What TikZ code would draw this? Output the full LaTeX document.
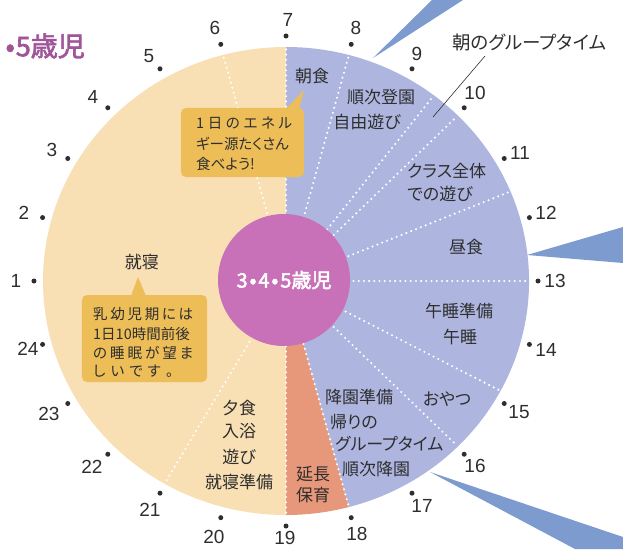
\documentclass[tikz,border=0pt]{standalone}
\usepackage{fontspec}
\newfontfamily\jp[RawFeature=+palt]{Noto Sans CJK JP}
\newfontfamily\jpb[RawFeature=+palt,FakeBold=2.5]{Noto Sans CJK JP}
\newfontfamily\numf{Liberation Sans}
\definecolor{peach}{HTML}{F8DFB4}
\definecolor{lav}{HTML}{AEB6E0}
\definecolor{salmon}{HTML}{E8987A}
\definecolor{pinkc}{HTML}{C870B8}
\definecolor{wedgec}{HTML}{7D9BCE}
\definecolor{calloutc}{HTML}{EDBE58}
\definecolor{titlec}{HTML}{A0559A}
\definecolor{ink}{HTML}{2E2E2E}
\newcommand\spr[2]{\makebox[#1][s]{#2}}
\begin{document}
\begin{tikzpicture}[x=1pt,y=1pt,
  divider/.style={white,line width=2.3pt,dash pattern=on 0pt off 5.2pt,line cap=round},
  lbl/.style={text=ink,font=\jp\fontsize{17}{20}\selectfont,inner sep=0pt},
  lblw/.style={lbl,anchor=west},
  small/.style={text=ink,font=\jp\fontsize{14.5}{17}\selectfont,inner sep=0pt,anchor=west},
  hour/.style={text=ink,font=\numf\fontsize{19}{22}\selectfont,inner sep=0pt},
  hdot/.style={circle,fill=ink,inner sep=0pt,minimum size=5pt},
  wedge/.style={fill=wedgec},
  callout/.style={fill=calloutc}]
\useasboundingbox (-286,-268) rectangle (337,281);
% blue wedges
\fill[wedge] (87,223) -- (146,281) -- (177,281) -- cycle;
\fill[wedge] (241,26) -- (337,54) -- (337,18) -- cycle;
\fill[wedge] (144,-191) -- (337,-256) -- (337,-268) -- (289,-268) -- cycle;
% clock face
\begin{scope}[xscale=1.0385]
  \fill[peach] (0,0) -- (90:234) arc[start angle=90,end angle=270,radius=234] -- cycle;
  \fill[lav] (0,0) -- (-75:234) arc[start angle=-75,end angle=90,radius=234] -- cycle;
  \fill[salmon] (0,0) -- (-90:234) arc[start angle=-90,end angle=-75,radius=234] -- cycle;
  \foreach \a in {105,90,75,52.5,45,22.5,0,-28,-45,-75,-90,240}
    \draw[divider] (\a:60) -- (\a:232);
\end{scope}
% hub
\node[circle,fill=pinkc,minimum size=132pt,inner sep=0pt,text=white,
      font=\jpb\fontsize{20}{22}\selectfont] (hub) at (-2,1) {3\kern2pt•\kern2pt4\kern2pt•\kern2pt5歳児};
% title
\node[anchor=east,text=titlec,font=\jpb\fontsize{27}{30}\selectfont,inner sep=0pt] (title) at (-201,235) {•\kern1pt5歳児};
% hour dots and numbers
\foreach \h/\lx/\ly in {1/-270/0,2/-262/68,3/-234/131,4/-193/184,5/-137/225,6/-71/253,
  7/2/261,8/70/253,9/131/227,10/189/188,11/234/128,12/260/68,13/269/0,14/260/-69,
  15/233/-131,16/189/-185,17/136/-225,18/71/-253,19/-1/-257,20/-72/-256,21/-136/-229,
  22/-194/-186,23/-237/-133,24/-258/-68}{
  \pgfmathsetmacro\ang{90-(\h-7)*15}
  \node[hdot] (d\h) at ({252*cos(\ang)},{245*sin(\ang)}) {};
  \node[hour] (h\h) at (\lx,\ly) {\h};
}
% activity labels
\node[lbl] (asa) at (26,205) {朝食};
\node[lbl] (jun1) at (95,184) {順次登園};
\node[lbl] (jiyu) at (81,159) {自由遊び};
\node[lblw] (cls1) at (121,110) {クラス全体};
\node[lblw] (cls2) at (121,87) {での遊び};
\node[lbl] (hiru) at (180,34) {昼食};
\node[lbl] (gos1) at (173,-30) {午睡準備};
\node[lbl] (gos2) at (174,-56) {午睡};
\node[lbl] (oya) at (161,-118) {おやつ};
\node[lblw] (koe1) at (39,-116) {降園準備};
\node[lblw] (koe2) at (44,-141) {帰りの};
\node[lblw] (koe3) at (49,-163) {グループタイム};
\node[lblw] (koe4) at (56,-188) {順次降園};
\node[lbl] (enc1) at (27,-193) {延長};
\node[lbl] (enc2) at (27,-214) {保育};
\node[lbl] (yu1) at (-47,-127) {夕食};
\node[lbl] (yu2) at (-47,-150) {入浴};
\node[lbl] (yu3) at (-47,-176) {遊び};
\node[lbl] (yu4) at (-47,-201) {就寝準備};
\node[lbl] (shu) at (-144,19) {就寝};
% group time label and leader
\node[lblw,font=\jp\fontsize{18.5}{20}\selectfont] (gt) at (166,239) {朝のグループタイム};
\coordinate (gtA) at (199,225);
\coordinate (gtB) at (147,164);
\draw[ink,line width=0.6pt] (gtA) -- (gtB);
% callout 1
\fill[callout,rounded corners=5pt] (-105,173) rectangle (18,104);
\fill[callout] (0,172) -- (18,191) -- (13,172) -- cycle;
\node[small] (c1a) at (-90,158) {\spr{96pt}{1 日 の エ ネ ル}};
\node[small] (c1b) at (-90,137) {ギー源たくさん};
\node[small] (c1c) at (-90,117) {食べよう!};
% callout 2
\fill[callout,rounded corners=5pt] (-204,-14) rectangle (-79,-101);
\fill[callout] (-155,-15) -- (-148,4) -- (-140,-15) -- cycle;
\node[small] (c2a) at (-193,-33) {\spr{100pt}{乳 幼 児 期 に は}};
\node[small] (c2b) at (-193,-53) {1日10時間前後};
\node[small] (c2c) at (-193,-72) {\spr{100pt}{の 睡 眠 が 望 ま}};
\node[small] (c2d) at (-193,-90) {\spr{80pt}{し い で す 。}};
\end{tikzpicture}
\end{document}
